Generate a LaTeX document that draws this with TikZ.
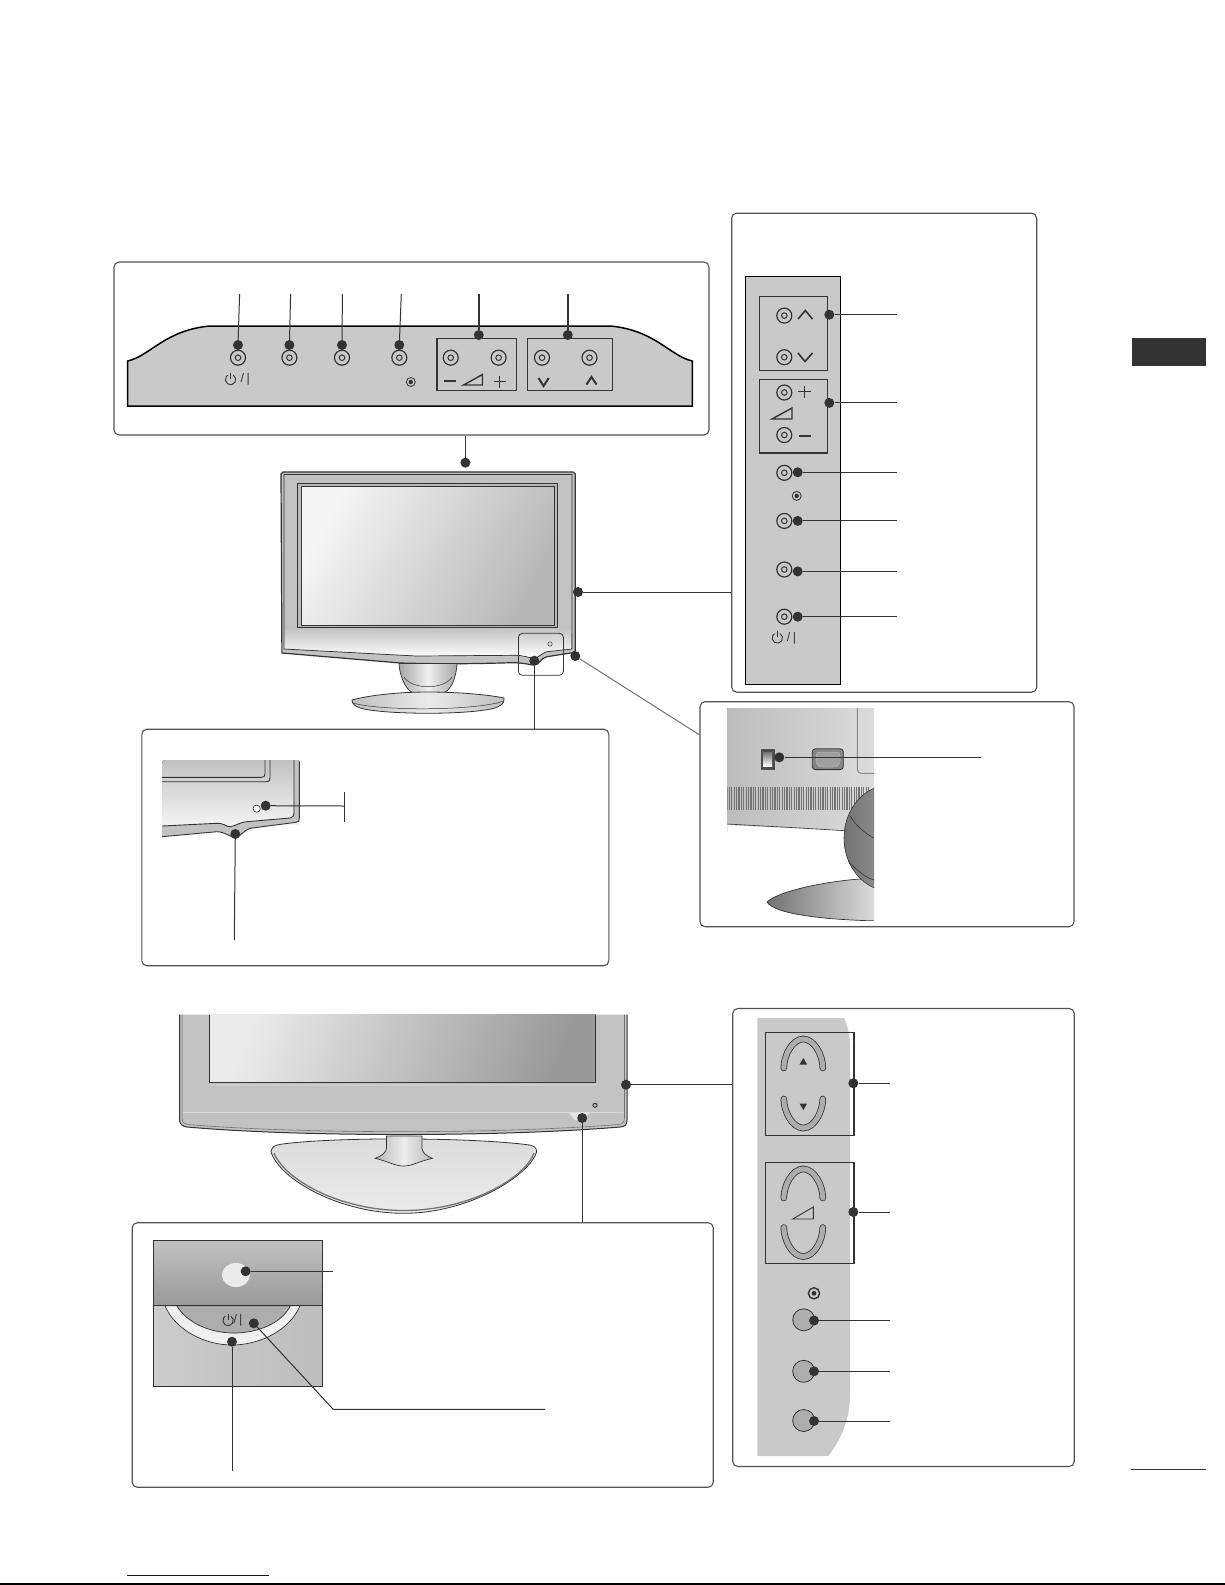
\documentclass[tikz,border=0pt]{standalone}
\usepackage{fontspec}
\setmainfont{Liberation Sans}
\definecolor{ink}{HTML}{333333}
\definecolor{pane}{HTML}{C9C9C9}
\definecolor{bezel}{HTML}{C2C2C2}
\tikzstyle{leader} = [ink,line width=1pt]
\tikzstyle{glyph} = [ink,line width=1.7pt]

\begin{document}
\begin{tikzpicture}[
    x=1pt, y=-1pt,
    framebox/.style={draw=ink!85, rounded corners=5pt, line width=1.1pt, inner sep=0pt},
    dot/.style={circle, fill=ink, inner sep=0pt, minimum size=10pt},
    powertxt/.style={inner sep=0pt, ink, font=\fontsize{12.5}{12.5}\selectfont},
    ringbtn/.pic={\draw[ink, line width=1.2pt] (0,0) circle (7.5); \draw[ink, line width=1pt] (0,0) circle (2.8);},
    ledmark/.pic={\draw[ink, line width=.8pt] (0,0) circle (4.5); \fill[ink] (0,0) circle (2.2);},
    powermark/.pic={\draw[ink, line width=.9pt] (2.8,-4.4) arc [start angle=-58, end angle=238, radius=5.2]; \draw[ink, line width=.9pt] (0,-7) -- (0,-1);},
    humpbtn/.pic={\draw[draw=ink, line width=.8pt, double=black!32, double distance=5pt, line cap=round] (-19.5,14.5) .. controls (-19.5,2) and (-11,-14.5) .. (0,-14.5) .. controls (11,-14.5) and (19.5,2) .. (19.5,14.5);},
    glassTop/.style={left color=white!96!black, right color=black!28, shading angle=62},
    glassLow/.style={left color=black!8, right color=black!40, shading angle=70}
  ]

  \useasboundingbox (0,0) rectangle (1225,1585);

  \fill[ink] (1132,338) rectangle (1206,366);
  \draw[ink, line width=1.2pt] (1131,1469.5) -- (1206,1469.5);
  \draw[black, line width=1.6pt] (0,1584.2) -- (1225,1584.2);
  \draw[blue!80!black, line width=1pt] (127,1575.3) -- (268.7,1575.3);

  \node[framebox, minimum width=595pt, minimum height=173pt] (panelTop) at (411.5,348.5) {};
  \node[framebox, minimum width=305pt, minimum height=479pt] (panelSide) at (884.2,452.7) {};
  \node[framebox, minimum width=374pt, minimum height=225pt] (panelBack) at (887,814.2) {};
  \node[framebox, minimum width=467pt, minimum height=236.5pt] (panelLamp) at (375.3,847.5) {};
  \node[framebox, minimum width=581pt, minimum height=264.5pt] (panelLow) at (422.7,1355) {};
  \node[framebox, minimum width=341.5pt, minimum height=458pt] (panelRight) at (903.5,1237.5) {};

  \draw[fill=pane, draw=black, line width=1.5pt] (127.7,406) -- (127.7,361) .. controls (150,356) and (165,330) .. (210,326) -- (610,326) .. controls (655,330) and (670,356) .. (692.3,361) -- (692.3,406) -- cycle;
  \draw[ink, line width=1.2pt] (437,338.3) rectangle (516.4,390.3);
  \draw[ink, line width=1pt] (527.4,338.3) rectangle (612.5,390.3);
  \foreach \x in {238,289.4,342,399.3,450.7,498.6,542,589.5}
    \pic at (\x,357.7) {ringbtn};
  \pic at (410.8,382) {ledmark};
  \pic at (230.5,379.5) {powermark};
  \node[powertxt] (pwrTop) at (245.3,379.5) {/\kern2.5pt|};
  \draw[glyph] (444,381) -- (456,381);
  \draw[ink, line width=1.4pt] (463.5,385) -- (482.5,374.5) -- (482.5,385) -- cycle;
  \draw[glyph] (493.5,381.5) -- (505.5,381.5) (499.5,375.5) -- (499.5,387.5);
  \draw[ink, line width=2pt] (538.5,378) -- (543.6,386) -- (548.7,378);
  \draw[ink, line width=2pt] (586.5,384.5) -- (591.5,377) -- (596.5,384.5);

  \draw[fill=bezel, draw=ink, line width=1.2pt] (281,474) -- (283,472) -- (573,472) -- (575.3,474) -- (575.3,651) -- (572.5,652.7) -- (547,656.7) .. controls (540,658) and (540,665) .. (534,665) .. controls (530,665) and (525,662.7) .. (511,662.7) .. controls (470,664) and (440,664) .. (400.5,663) -- (281.9,653) -- cycle;
  \fill[top color=bezel, bottom color=white] (284,628) -- (572,628) -- (571,649) -- (547,651.7) .. controls (542,653) and (540,657) .. (534,658) .. controls (528,658) and (525,655.3) .. (515,655.3) -- (416,656) -- (284,649) -- cycle;
  \draw[ink, line width=.7pt] (284,474.5) -- (572,474.5) -- (572,649) -- (547,651.7) .. controls (542,653) and (540,657) .. (534,658) .. controls (528,658) and (525,655.3) .. (515,655.3) -- (416,656) -- (284,649) -- cycle;
  \draw[fill=black!28, draw=ink, line width=1.1pt] (297.7,483.7) rectangle (557.9,627.7);
  \shade[glassTop] (300.9,486.7) rectangle (554.7,625);
  \draw[ink, line width=.6pt] (300.9,486.7) rectangle (554.7,625);
  \draw[ink, line width=.8pt, rounded corners=4pt] (518.4,633.3) rectangle (563.4,675.3);
  \draw[ink, line width=.5pt] (550,644) circle (2.2);
  \shadedraw[draw=ink, line width=.7pt, left color=black!35, right color=black!35, middle color=black!6] (399,663.5) .. controls (400,680) and (408,692) .. (414,693) -- (442,693) .. controls (450,692) and (456,680) .. (457,663.5) -- cycle;
  \draw[ink, line width=.5pt] (404,677) .. controls (412,690) and (444,690) .. (452,677);
  \shadedraw[draw=ink, line width=.8pt, left color=black!25, right color=black!25, middle color=black!8] (352,700) .. controls (370,695) and (400,692) .. (428,692) .. controls (460,692) and (490,695) .. (504,698) .. controls (505,704) and (500,706) .. (495,708) .. controls (470,715) and (385,715) .. (360,708) .. controls (355,706) and (352,704) .. (352,700) -- cycle;
  \draw[ink, line width=.5pt] (353,703) .. controls (380,711) and (475,711) .. (504,701);

  \fill[pane] (745.7,276.5) rectangle (840.7,684.7);
  \draw[black, line width=1.3pt] (745.7,276.5) rectangle (840.7,684.7);
  \draw[ink, line width=1.3pt] (759.3,296.7) rectangle (827.3,370.8);
  \draw[ink, line width=1.3pt] (759.3,379.8) rectangle (827.3,453);
  \foreach \y in {315.6,357.2,392.5,435,472.8,520.9,569.5,616.7}
    \pic at (784.3,\y) {ringbtn};
  \pic at (796.7,495.9) {ledmark};
  \pic at (777.3,638) {powermark};
  \node[powertxt] (pwrSide) at (791.5,638) {/\kern2.5pt|};
  \draw[ink, line width=1.6pt] (798,319) -- (805.3,310.5) -- (812.5,319);
  \draw[ink, line width=1.6pt] (798,353) -- (805,361.5) -- (812.5,353);
  \draw[ink, line width=1.2pt] (798,391.8) -- (810.5,391.8) (804.3,385.5) -- (804.3,398);
  \draw[ink, line width=1.2pt] (799,436) -- (810.5,436);
  \draw[ink, line width=1.4pt] (772,419) -- (792,408) -- (792,419) -- cycle;

  \begin{scope}
    \clip (727.3,708.7) rectangle (874,920.6);
    \fill[left color=black!26, right color=black!14] (727,708) rectangle (874,832);
    \fill[white] (727,825) -- (800,828.5) -- (874,832) -- (874,921) -- (727,921) -- cycle;
    \draw[ink, line width=.6pt] (727,824) -- (800,828) -- (850,831);
    \draw[black!45, line width=1pt, rounded corners=4pt] (857.3,700) -- (857.3,773.4) -- (880,773.4);
    \foreach \x in {727,729.4,...,870}
      \draw[black!55, line width=1.1pt] (\x,786.6) -- (\x,809.7);
    \shadedraw[draw=ink, line width=.7pt, left color=black!55, right color=black!12] (767,902) .. controls (780,890) and (830,881) .. (860,879) -- (880,879) -- (880,921) .. controls (830,920) and (775,915) .. (767,902) -- cycle;
    \shadedraw[draw=ink, line width=.6pt, left color=black!55, right color=black!28] (890,838) ellipse (46 and 53);
    \draw[ink, line width=.6pt] (850,816) .. controls (856,826) and (866,834) .. (874,838);
    \draw[ink, line width=.6pt] (848.3,860.7) .. controls (856,870) and (866,878) .. (874,880);
    \fill[black!70] (760.7,748.8) rectangle (775,769.6);
    \fill[top color=black!55, bottom color=white] (763,752) rectangle (772,766);
    \draw[draw=ink, fill=black!48, line width=.8pt, rounded corners=3pt] (812.3,748.8) rectangle (843.3,769.6);
    \draw[black!30, fill=black!38, line width=.5pt, rounded corners=3pt] (816,752) -- (840,752) -- (840,764) -- (836,767) -- (820,767) -- (816,764) -- cycle;
  \end{scope}

  \begin{scope}
    \clip[rounded corners=3pt] (162,760) rectangle (300,845);
    \fill[top color=black!24, bottom color=black!5] (162,760) rectangle (300,824);
    \fill[bezel] (162,826) -- (216.7,823.3) .. controls (224,823) and (226,826.7) .. (230,826.7) .. controls (236,826) and (240,822) .. (246.7,821.7) -- (293.3,817.7) -- (294,760) -- (299.3,760) -- (299.3,821.7) -- (250,828.3) .. controls (244,830) and (240,837.3) .. (235.3,837.3) .. controls (230,837.3) and (225,831.7) .. (216.7,831.7) -- (162,836.7) -- cycle;
    \draw[ink, line width=.9pt] (162,826) -- (216.7,823.3) .. controls (224,823) and (226,826.7) .. (230,826.7) .. controls (236,826) and (240,822) .. (246.7,821.7) -- (290,818) .. controls (293,817.7) and (294,816) .. (294,813) -- (294,760);
    \draw[ink, line width=.9pt] (162,836.7) -- (216.7,831.7) .. controls (225,831.7) and (230,837.3) .. (235.3,837.3) .. controls (240,837.3) and (244,830) .. (250,828.3) -- (296,822.3) .. controls (298.5,822) and (299.3,821) .. (299.3,818) -- (299.3,760);
    \draw[ink, line width=.9pt] (265,760) -- (265,774) .. controls (265,776.5) and (264,777.3) .. (261,777.3) -- (162,777.3);
    \draw[ink, line width=.9pt] (270,760) -- (270,778) .. controls (270,781) and (269,781.7) .. (266,781.7) -- (162,781.7);
  \end{scope}
  \draw[draw=ink, line width=.6pt, fill=white] (256.7,808.7) circle (3.6);

  \draw[fill=bezel, draw=ink, line width=1pt] (179.5,1014.7) -- (179.5,1120) .. controls (180,1125) and (183,1126.5) .. (187,1127) .. controls (300,1137) and (500,1137) .. (620,1127) .. controls (625,1126.5) and (627,1125) .. (627,1120) -- (627,1014.7);
  \draw[black!55, line width=.6pt] (182,1014.7) -- (182,1118) .. controls (182,1123) and (185,1124) .. (188,1124.5) .. controls (300,1134) and (500,1134) .. (618,1124.5) .. controls (622,1124) and (624.5,1123) .. (624.5,1118) -- (624.5,1014.7);
  \draw[white!85!black, line width=1.2pt] (183,1112.7) -- (623.5,1112.7);
  \shade[glassLow] (209.8,1014.7) rectangle (595.8,1082.7);
  \draw[ink, line width=.8pt] (209.8,1014.7) -- (209.8,1082.7) -- (595.8,1082.7) -- (595.8,1014.7);
  \draw[white!80!black, line width=1.2pt] (209.8,1085) -- (595.8,1085);
  \draw[ink, line width=1pt] (595,1105.3) circle (2);
  \fill[white!90!black] (569,1112.7) -- (590,1112.7) -- (582,1120) -- (575,1120) -- cycle;
  \shadedraw[draw=ink, line width=.8pt, top color=black!14, bottom color=white!92!black] (270.9,1151.7) .. controls (272,1146) and (276,1145) .. (280.6,1144.3) .. controls (330,1137) and (470,1137) .. (529.7,1145) .. controls (533,1146) and (536.7,1147) .. (536.7,1151.7) .. controls (530,1175) and (470,1213.3) .. (403.6,1213.3) .. controls (340,1213.3) and (280,1180) .. (270.9,1151.7) -- cycle;
  \draw[black!55, line width=1.3pt] (274,1153) .. controls (285,1180) and (340,1210.5) .. (403.6,1210.5) .. controls (470,1210.5) and (525,1178) .. (534,1153);
  \shadedraw[draw=ink, line width=.7pt, left color=black!28, right color=black!28, middle color=black!7] (386.5,1136) -- (386.5,1148) .. controls (386.5,1152) and (382,1156) .. (375.2,1158.3) .. controls (390,1162) and (395,1166) .. (403.6,1166) .. controls (412,1166) and (417,1162) .. (432.4,1158.3) .. controls (426,1156) and (421.9,1152) .. (421.9,1148) -- (421.9,1136) -- cycle;

  \fill[top color=black!24, bottom color=black!40] (153.4,1240.7) rectangle (322.7,1305);
  \fill[left color=black!20, right color=black!26] (153.4,1305) rectangle (322.7,1386.7);
  \draw[draw=ink, line width=.7pt, fill=white!94!black] (165,1305.7) .. controls (175,1330) and (205,1345) .. (232,1345) .. controls (260,1345) and (290,1330) .. (300,1305.7) -- cycle;
  \draw[draw=ink, line width=.7pt, fill=black!32] (176.8,1305.7) .. controls (187,1323) and (210,1333) .. (234,1333) .. controls (258,1333) and (282,1323) .. (290.4,1305.7) -- cycle;
  \draw[ink, line width=1.1pt] (153.4,1240.7) rectangle (322.7,1386.7);
  \draw[ink, line width=1pt] (153.4,1305) -- (322.7,1305);
  \fill[white!92!black] (235.9,1275) ellipse (14 and 12);
  \pic at (228,1320.5) {powermark};
  \node[powertxt] (pwrLow) at (238,1320.5) {/\,|};

  \fill[pane] (757.3,1017.9) -- (844,1017.9) .. controls (848,1027) and (850,1036) .. (850,1044.8) -- (850,1395.5) .. controls (850,1420) and (840,1441) .. (828.3,1456) -- (757.3,1456) -- cycle;
  \draw[ink, line width=.9pt] (854.3,1032.5) -- (765.3,1032.5) -- (765.3,1135.4) -- (854.3,1135.4);
  \draw[ink, line width=1.8pt] (854.3,1032) -- (854.3,1136);
  \draw[ink, line width=.9pt] (854.3,1162.3) -- (765.3,1162.3) -- (765.3,1263.4) -- (854.3,1263.4);
  \draw[ink, line width=1.8pt] (854.3,1161.8) -- (854.3,1264);
  \pic at (803.3,1053.5) {humpbtn};
  \pic[yscale=-1] at (803.3,1113.5) {humpbtn};
  \pic at (803.3,1183.5) {humpbtn};
  \pic[yscale=-1] at (803.3,1242) {humpbtn};
  \fill[ink] (803.3,1058) -- (799.5,1064.5) -- (807.1,1064.5) -- cycle;
  \fill[ink] (803.3,1110) -- (799.5,1103.5) -- (807.1,1103.5) -- cycle;
  \draw[ink, line width=.9pt] (792.7,1219) -- (813.3,1207) -- (813.3,1219) -- cycle;
  \draw[ink, line width=1.4pt] (814,1293.3) circle (5.6);
  \fill[ink] (814,1293.3) circle (2.4);
  \foreach \y in {1319.8,1371.3,1420.5}
    \draw[draw=ink, line width=.8pt, fill=black!32] (803.7,\y) circle (11);

  \foreach \name/\x/\y/\ex/\ey in {
      dotPwr/238/345/239.6/294, dotMenu/289.4/345/290.6/294, dotInput/342/345/342.4/294, dotOk/399.3/345/401.3/294,
      dotSideCh/829.3/314.7/896.7/314.7, dotSideVol/829.3/402.9/896.7/402.9,
      dotSideA/797.7/472.3/896.7/472.3, dotSideB/797.7/520.9/896.7/520.9, dotSideC/797.7/571.4/896.7/571.4, dotSideD/797.7/616.7/896.7/616.7,
      dotSwitch/779.3/757.3/981/757.3, dotLamp/265.7/805.7/344.3/806, dotRim/235.3/834/234.3/940,
      dotIr/245.6/1271.3/333.2/1271.3, dotRing/232/1341.7/232/1470.7,
      dotLowCh/853.3/1083.2/890/1083.2, dotLowVol/853.3/1212/890/1212,
      dotLowA/814/1320.5/890/1320.5, dotLowB/814/1371.3/890/1371.3, dotLowC/814/1421/890/1421}
  {
    \node[dot] (\name) at (\x,\y) {};
    \coordinate (\name-end) at (\ex,\ey);
    \draw[leader] (\name) -- (\name-end);
  }

  \node[dot] (dotVol) at (478.8,335) {};
  \node[dot] (dotCh) at (567.8,335) {};
  \coordinate (dotVol-end) at (478.8,294);
  \coordinate (dotCh-end) at (567.8,294);
  \draw[leader, line width=2pt] (dotVol) -- (dotVol-end);
  \draw[leader, line width=2pt] (dotCh) -- (dotCh-end);

  \coordinate (lampBar-a) at (344.3,791.7);
  \coordinate (lampBar-b) at (344.3,821.7);
  \draw[leader] (lampBar-a) -- (lampBar-b);

  \node[dot] (dotTvTop) at (465.4,462.7) {};
  \draw[leader] (dotTvTop) -- (dotTvTop |- panelTop.south);
  \node[dot] (dotTvSide) at (578,592) {};
  \draw[leader] (dotTvSide) -- (dotTvSide -| panelSide.west);
  \node[dot] (dotTvNotch) at (534.2,660.7) {};
  \draw[leader] (dotTvNotch) -- (dotTvNotch |- panelLamp.north);
  \node[dot] (dotTvBack) at (575.3,656) {};
  \coordinate (backTip) at (699.7,735);
  \draw[leader, black!55] (dotTvBack) -- (backTip);

  \node[dot] (dotLowSide) at (626,1084.7) {};
  \draw[leader] (dotLowSide) -- (dotLowSide -| panelRight.west);
  \node[dot] (dotLowNotch) at (582.2,1118) {};
  \draw[leader] (dotLowNotch) -- (dotLowNotch |- panelLow.north);

  \node[dot] (dotLowPwr) at (253.8,1323.3) {};
  \coordinate (lowBend) at (333.2,1409.3);
  \coordinate (lowEnd) at (545.2,1409.3);
  \draw[leader] (dotLowPwr) -- (lowBend) -- (lowEnd);

\end{tikzpicture}
\end{document}
